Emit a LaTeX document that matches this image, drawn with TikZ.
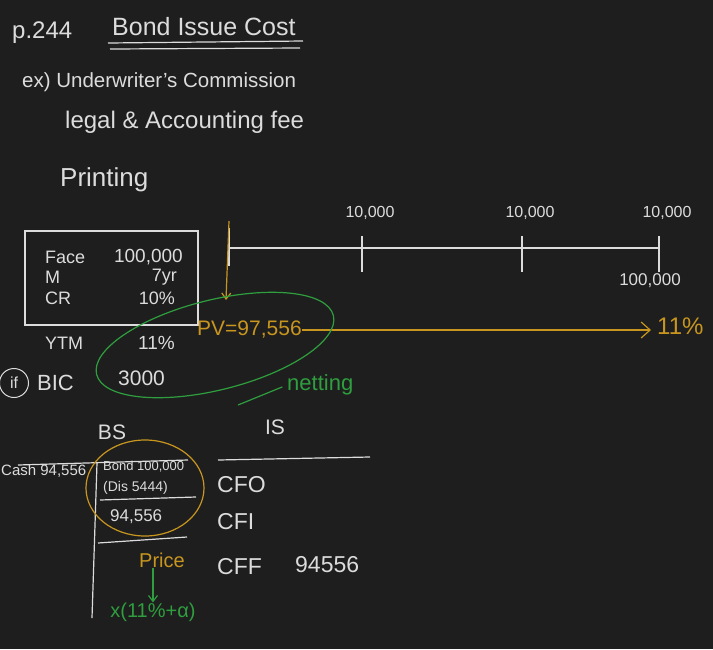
\documentclass[tikz,border=0pt]{standalone}
\usepackage{fontspec}
\setmainfont{Liberation Sans}
\usepackage{xcolor}
\usetikzlibrary{arrows.meta, positioning}
\definecolor{board}{HTML}{1E1E1E}
\definecolor{chalk}{HTML}{DCDCDC}
\definecolor{gold}{HTML}{C8961E}
\definecolor{pen}{HTML}{2E9E3E}

\begin{document}
\begin{tikzpicture}[x=1pt, y=-1pt,
      txt/.style={inner sep=0pt, text=chalk, font=\fontsize{#1}{#1}\selectfont},
      goldtxt/.style={txt=#1, text=gold},
      pentxt/.style={txt=#1, text=pen},
      chalkline/.style={draw=chalk, line width=1.2pt},
      goldline/.style={draw=gold, line width=1.2pt},
      penline/.style={draw=pen, line width=1.2pt},
      arr/.style={-{Straight Barb[length=6pt, width=9pt]}}
    ]
      \fill[board] (0,0) rectangle (713,649);
      \useasboundingbox (0,0) rectangle (713,649);

      % heading
      \node[txt=24, anchor=west] (page)  at (12,33)  {p.244};
      \node[txt=25, anchor=west] (title) at (112,27) {Bond Issue Cost};
      \draw[chalkline] (108,43) -- (303,41);
      \draw[chalkline] (110,49) -- (300,48);
      \node[txt=20.5, anchor=west] (ex)  at (22,82)  {ex) Underwriter's Commission};
      \node[txt=24, anchor=west] (legal) at (65,122) {legal \& Accounting fee};
      \node[txt=26, anchor=west] (print) at (60,180) {Printing};

      % bond data
      \draw[chalkline] (25,231) rectangle (198,325);
      \node[txt=18, anchor=west] (face)   at (45,257)  {Face};
      \node[txt=19, anchor=east] (facev)  at (183,257) {100,000};
      \node[txt=18, anchor=west] (mat)    at (45,277)  {M};
      \node[txt=18, anchor=east] (matv)   at (177,277) {7yr};
      \node[txt=18, anchor=west] (cr)     at (45,298)  {CR};
      \node[txt=18, anchor=east] (crv)    at (175,298) {10\%};
      \node[txt=18, anchor=west] (ytm)    at (45,343)  {YTM};
      \node[txt=19, anchor=east] (ytmv)   at (175,343) {11\%};
      \node[txt=16, draw=chalk, circle, minimum size=29pt, line width=1pt] (ifmark) at (14,383) {if};
      \node[txt=22, anchor=west] (bic)    at (37,383)  {BIC};
      \node[txt=21, anchor=west] (bicv)   at (118,378) {3000};

      % cash flow line
      \coordinate (t0) at (229,248);
      \coordinate (t3) at (659,248);
      \draw[chalkline] (229,228) -- (229,266);
      \draw[chalkline] (t0) -- (t3);
      \foreach \x/\nm in {362/a, 522/b, 659/c} {
        \draw[chalkline] (\x,236) -- (\x,272);
        \node[txt=16] (cf\nm) at (\x+8,213) {10,000};
      }
      \node[txt=17] (facecf) at (650,281) {100,000};

      % present value
      \coordinate (pvtop) at (229,221);
      \coordinate (pvend) at (226,300);
      \node[goldtxt=21, anchor=west] (pv)    at (197,330) {PV=97,556};
      \node[goldtxt=24, anchor=west] (yield) at (657,326) {11\%};
      \draw[goldline, arr] (pvtop) -- (pvend);
      \draw[goldline, -{Straight Barb[length=9pt, width=16pt]}, shorten >=6pt] (pv.east) -- (pv.east -| yield.west);

      % netting
      \draw[penline] (215,345) ellipse [x radius=122, y radius=45, rotate=14];
      \coordinate (nA) at (238,405);
      \node[pentxt=22, anchor=west] (netting) at (287,385) {netting};
      \draw[penline, shorten >=5pt] (nA) -- (netting.west);

      % statements
      \node[txt=21] (bs) at (112,432) {BS};
      \node[txt=21] (is) at (275,427) {IS};
      \draw[chalkline] (218,460) -- (370,457);
      \draw[chalkline] (18,465) -- (188,460);
      \draw[chalkline] (97,463) -- (92,618);
      \node[txt=15, anchor=west] (cash)  at (1,471)   {Cash 94,556};
      \node[txt=13, anchor=west] (bond)  at (103,467) {Bond 100,000};
      \node[txt=14, anchor=west] (dis)   at (103,488) {(Dis 5444)};
      \draw[chalkline] (100,500) -- (196,497);
      \node[txt=17, anchor=west] (carry) at (110,517) {94,556};
      \draw[chalkline] (98,543) -- (187,537);
      \draw[goldline] (145,488) ellipse [x radius=59, y radius=48];

      \node[goldtxt=20] (price) at (162,560) {Price};
      \node[pentxt=20] (rate)   at (153,612) {x(11\%+α)};
      \draw[penline, arr] (price.south -| rate.north) -- (rate.north);

      \node[txt=23, anchor=west] (cfo)  at (217,485) {CFO};
      \node[txt=23, anchor=west] (cfi)  at (217,522) {CFI};
      \node[txt=23, anchor=west] (cff)  at (217,567) {CFF};
      \node[txt=23, anchor=west] (cffv) at (295,565) {94556};
    \end{tikzpicture}
\end{document}
